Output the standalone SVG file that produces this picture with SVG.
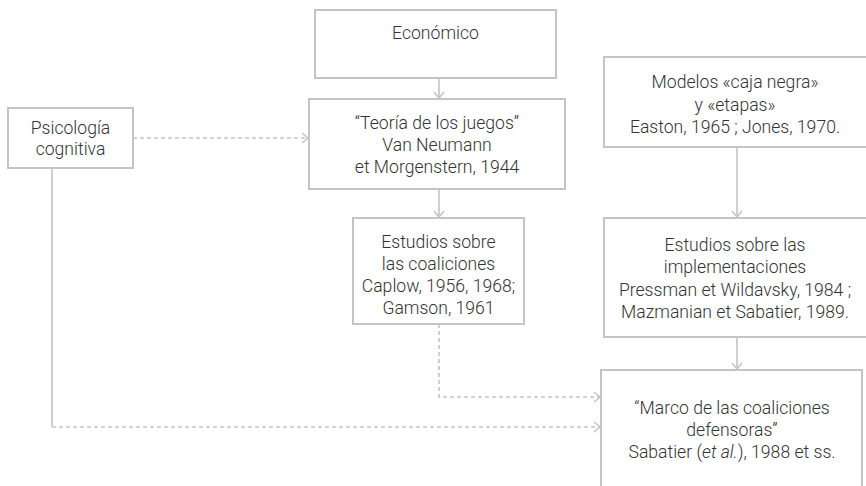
<svg xmlns="http://www.w3.org/2000/svg" width="866" height="486" viewBox="0 0 866 486">
<defs>
<marker id="ah" markerWidth="10" markerHeight="12" refX="8" refY="6" orient="auto" markerUnits="userSpaceOnUse">
<path d="M2,1 L8,6 L2,11" fill="none" stroke="#c4c4c4" stroke-width="1.5"/>
</marker>
<style>
.box{fill:#fff;stroke:#c4c4c4;stroke-width:2}
.t{font-family:Roboto,"Noto Sans",sans-serif;font-weight:300;font-size:17.6px;fill:#333;text-anchor:middle}
.solid{fill:none;stroke:#c4c4c4;stroke-width:1.6}
.dash{fill:none;stroke:#c4c4c4;stroke-width:1.6;stroke-dasharray:4 3}
</style>
</defs>
<rect width="866" height="486" fill="#fff"/>
<g id="connectors">
<line class="solid" x1="439" y1="78" x2="439" y2="98" marker-end="url(#ah)"/>
<line class="solid" x1="439" y1="189" x2="439" y2="217" marker-end="url(#ah)"/>
<line class="dash" x1="133" y1="138" x2="308" y2="138" marker-end="url(#ah)"/>
<line class="solid" x1="737" y1="147" x2="737" y2="217" marker-end="url(#ah)"/>
<line class="solid" x1="737" y1="337" x2="737" y2="369" marker-end="url(#ah)"/>
<path class="dash" d="M439,324 V397 H600" marker-end="url(#ah)"/>
<path class="solid" d="M52,168 V427"/>
<path class="dash" d="M52,427 H600" marker-end="url(#ah)"/>
</g>
<g id="economico">
<rect class="box" x="315" y="10" width="241" height="68"/>
<text class="t" x="435.5" y="39">Económico</text>
</g>
<g id="psicologia">
<rect class="box" x="8" y="108" width="125" height="60"/>
<text class="t" x="70.5" y="134">Psicología</text>
<text class="t" x="70.5" y="155">cognitiva</text>
</g>
<g id="teoria">
<rect class="box" x="309" y="99" width="256" height="90"/>
<text class="t" x="437" y="129">“Teoría de los juegos”</text>
<text class="t" x="437" y="151">Van Neumann</text>
<text class="t" x="437" y="173">et Morgenstern, 1944</text>
</g>
<g id="coaliciones">
<rect class="box" x="353" y="218" width="171" height="106"/>
<text class="t" x="438.5" y="248">Estudios sobre</text>
<text class="t" x="438.5" y="270">las coaliciones</text>
<text class="t" x="438.5" y="292">Caplow, 1956, 1968;</text>
<text class="t" x="438.5" y="314">Gamson, 1961</text>
</g>
<g id="modelos">
<rect class="box" x="604" y="57" width="270" height="90"/>
<text class="t" x="735" y="88">Modelos «caja negra»</text>
<text class="t" x="735" y="111">y «etapas»</text>
<text class="t" x="735" y="133">Easton, 1965 ; Jones, 1970.</text>
</g>
<g id="implementaciones">
<rect class="box" x="604" y="218" width="270" height="119"/>
<text class="t" x="735" y="251">Estudios sobre las</text>
<text class="t" x="735" y="273">implementaciones</text>
<text class="t" x="735" y="296">Pressman et Wildavsky, 1984 ;</text>
<text class="t" x="735" y="318">Mazmanian et Sabatier, 1989.</text>
</g>
<g id="marco">
<rect class="box" x="601" y="370" width="261" height="130"/>
<text class="t" x="732" y="414">“Marco de las coaliciones</text>
<text class="t" x="732" y="436">defensoras”</text>
<text class="t" x="732" y="458">Sabatier (<tspan font-style="italic">et al.</tspan>), 1988 et ss.</text>
</g>
</svg>
